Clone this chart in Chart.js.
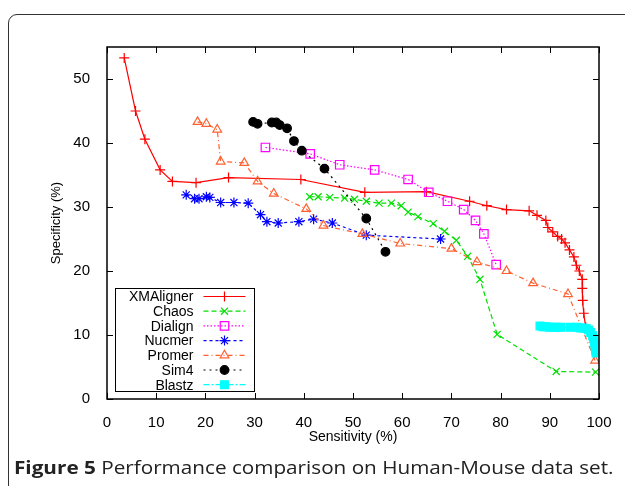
<!DOCTYPE html>
<html lang="en">
<head>
<meta charset="UTF-8">
<title>Figure 5</title>
<script src="https://cdn.jsdelivr.net/npm/chart.js"></script>
<style>
    html, body { margin: 0; padding: 0; background: #fff; }
    body { width: 625px; height: 486px; position: relative; overflow: hidden; }
    .frame { position: absolute; left: 8px; top: 14px; width: 640px; height: 600px; border: 1px solid #333; border-radius: 9px; }
    #chart { position: absolute; left: 0; top: 0; }
    .caption { position: absolute; left: 14px; top: 455px; font-family: "Open Sans"; font-size: 18px; color: #222;
        white-space: nowrap; transform: scaleX(1.15); transform-origin: left top; }
</style>
</head>
<body>
<div class="frame"></div>
<canvas id="chart" width="625" height="486"></canvas>
<div class="caption"><b>Figure 5</b> Performance comparison on Human-Mouse data set.</div>
<script>
    // series, as [sensitivity, specificity] pairs
    const xmaligner = [[3.5,53.3],[5.8,45.0],[7.7,40.6],[10.8,35.8],[13.3,34.0],[18.1,33.8],[24.7,34.6],[39.4,34.3],
        [52.4,32.3],[64.9,32.4],[73.7,30.9],[77.2,30.2],[81.2,29.6],[85.8,29.4],[87.4,28.7],[89.2,27.9],[89.6,26.8],
        [90.6,26.1],[91.6,25.4],[92.4,25.0],[93.1,24.4],[94.0,23.3],[94.9,22.2],[95.4,20.9],[96.0,20.0],[96.6,18.7],
        [96.6,17.3],[96.7,15.4],[96.9,13.4],[97.3,11.2]];
    const chaos = [[41.2,31.6],[42.9,31.6],[45.3,31.5],[48.3,31.4],[50.3,31.2],[52.7,30.9],[55.3,30.6],[57.8,30.6],
        [59.8,30.2],[61.2,29.2],[63.2,28.5],[66.3,27.4],[68.6,26.2],[71.0,24.8],[73.3,22.3],[75.8,18.7],[79.3,10.1],
        [91.3,4.3],[99.3,4.2]];
    const dialign = [[32.2,39.3],[41.3,38.3],[47.3,36.6],[54.4,35.8],[61.2,34.3],[65.4,32.3],[69.2,30.9],[72.5,29.6],
        [74.9,27.9],[76.6,25.8],[79.1,21.0]];
    const nucmer = [[16.1,31.9],[17.8,31.3],[18.7,31.3],[20.2,31.6],[20.9,31.5],[23.1,30.7],[25.8,30.7],[28.7,30.6],
        [31.2,28.8],[32.5,27.7],[34.8,27.5],[39.0,27.7],[42.0,28.1],[45.8,27.5],[52.7,25.6],[67.8,25.0]];
    const promer = [[18.4,43.3],[20.2,43.0],[22.4,42.1],[23.1,37.1],[27.9,36.9],[30.6,34.0],[33.9,32.1],[40.5,29.7],
        [44.0,27.1],[51.9,25.8],[59.6,24.3],[70.0,23.5],[75.2,21.4],[81.2,20.0],[86.6,18.1],[93.7,16.4],[99.2,6.0]];
    const sim4 = [[29.7,43.3],[30.6,43.0],[33.5,43.2],[34.4,43.2],[35.1,42.8],[36.6,42.3],[38.0,40.3],[39.6,38.8],
        [44.2,36.0],[52.7,28.2],[56.6,23.0]];
    const blastz = [[88.0,11.4],[88.6,11.3],[89.3,11.3],[90.0,11.2],[90.8,11.2],[91.5,11.2],[92.3,11.2],[94.2,11.2],
        [95.5,11.2],[96.2,11.1],[96.8,11.1],[97.4,11.0],[97.9,10.8],[98.3,10.4],[98.7,9.9],[98.9,9.4],[99.1,8.8],
        [99.2,8.2],[99.3,7.6],[99.4,7.2]];

    const xTicks = [0, 10, 20, 30, 40, 50, 60, 70, 80, 90, 100];
    const yTicks = [0, 10, 20, 30, 40, 50];

    const FONT = 'Liberation Sans';

    function toPoints(arr) {
        return arr.map(p => ({ x: p[0], y: p[1] }));
    }

    function series(label, arr, color, dash, style, radius, filled) {
        return {
            label: label,
            data: toPoints(arr),
            showLine: true,
            borderColor: color,
            borderWidth: 1.2,
            borderDash: dash,
            pointStyle: style,
            pointRadius: radius,
            pointBorderColor: color,
            pointBackgroundColor: filled ? color : 'rgba(0,0,0,0)',
            pointBorderWidth: 1.2,
            tension: 0
        };
    }

    const datasets = [
        series('XMAligner', xmaligner, '#ff0000', [], 'cross', 5, false),
        series('Chaos', chaos, '#00e000', [5, 3], 'crossRot', 5, false),
        series('Dialign', dialign, '#ff00ff', [1.5, 2], 'rect', 6, false),
        series('Nucmer', nucmer, '#0000ff', [3, 3], 'star', 5, false),
        series('Promer', promer, '#ff6030', [5, 3, 1, 3], 'triangle', 5, false),
        series('Sim4', sim4, '#000000', [2, 4], 'circle', 4.3, true),
        series('Blastz', blastz, '#00ffff', [6, 2, 2, 2], 'rect', 5.5, true)
    ];
    // gnuplot draws the last series on top
    datasets.forEach((d, i) => { d.order = datasets.length - i; });

    // border box, inward ticks and the key
    const gnuplotFrame = {
        id: 'gnuplotFrame',
        afterDatasetsDraw(chart) {
            const ctx = chart.ctx;
            const a = chart.chartArea;
            const xs = chart.scales.x, ys = chart.scales.y;
            ctx.save();
            ctx.strokeStyle = '#000';
            ctx.lineWidth = 1.5;
            ctx.setLineDash([]);
            ctx.strokeRect(a.left, a.top, a.right - a.left, a.bottom - a.top);
            ctx.lineWidth = 1;
            ctx.beginPath();
            xTicks.forEach(v => {
                const px = Math.round(xs.getPixelForValue(v)) + 0.5;
                ctx.moveTo(px, a.bottom); ctx.lineTo(px, a.bottom - 6);
                ctx.moveTo(px, a.top); ctx.lineTo(px, a.top + 6);
            });
            yTicks.forEach(v => {
                const py = Math.round(ys.getPixelForValue(v)) + 0.5;
                ctx.moveTo(a.left, py); ctx.lineTo(a.left + 6, py);
                ctx.moveTo(a.right, py); ctx.lineTo(a.right - 6, py);
            });
            ctx.stroke();

            // key box
            const bx = a.left + 8.5, by = a.bottom - 110.5, bw = 139, bh = 103;
            ctx.fillStyle = '#fff';
            ctx.fillRect(bx, by, bw, bh);
            ctx.strokeStyle = '#000';
            ctx.lineWidth = 1;
            ctx.strokeRect(bx, by, bw, bh);
            ctx.font = '14px "' + FONT + '"';
            ctx.textAlign = 'right';
            ctx.textBaseline = 'middle';
            chart.data.datasets.forEach((d, i) => {
                const y = by + 8 + i * 14.7;
                ctx.fillStyle = '#000';
                ctx.fillText(d.label, bx + 78, y + 1);
                ctx.strokeStyle = d.borderColor;
                ctx.lineWidth = d.borderWidth;
                ctx.setLineDash(d.borderDash);
                ctx.beginPath();
                ctx.moveTo(bx + 88, y); ctx.lineTo(bx + 130, y);
                ctx.stroke();
                ctx.setLineDash([]);
                ctx.fillStyle = d.pointBackgroundColor;
                ctx.lineWidth = d.pointBorderWidth;
                Chart.helpers.drawPoint(ctx, { pointStyle: d.pointStyle, radius: d.pointRadius, borderWidth: d.pointBorderWidth, rotation: 0 }, bx + 109, y);
            });
            ctx.restore();
        }
    };

    new Chart(document.getElementById('chart'), {
        type: 'scatter',
        data: { datasets: datasets },
        options: {
            responsive: false,
            animation: false,
            layout: { padding: { left: 0, top: 47, right: 26, bottom: 36 } },
            plugins: { legend: { display: false }, tooltip: { enabled: false } },
            scales: {
                x: {
                    type: 'linear',
                    min: 0, max: 100,
                    afterFit: s => { s.height = 51; },
                    afterBuildTicks: s => { s.ticks = xTicks.map(v => ({ value: v })); },
                    grid: { display: false },
                    border: { display: false },
                    ticks: { padding: 7, color: '#000', font: { family: FONT, size: 15 } },
                    title: { display: true, text: 'Sensitivity (%)', color: '#000', padding: { bottom: 4 },
                        font: { family: FONT, size: 14 } }
                },
                y: {
                    type: 'linear',
                    min: 0, max: 55,
                    afterFit: s => { s.width = 107; },
                    afterBuildTicks: s => { s.ticks = yTicks.map(v => ({ value: v })); },
                    grid: { display: false },
                    border: { display: false },
                    ticks: { padding: 9, color: '#000', font: { family: FONT, size: 15 } },
                    title: { display: true, text: 'Specificity (%)', color: '#000', padding: { top: 49 },
                        font: { family: FONT, size: 13 } }
                }
            }
        },
        plugins: [gnuplotFrame]
    });
</script>
</body>
</html>
